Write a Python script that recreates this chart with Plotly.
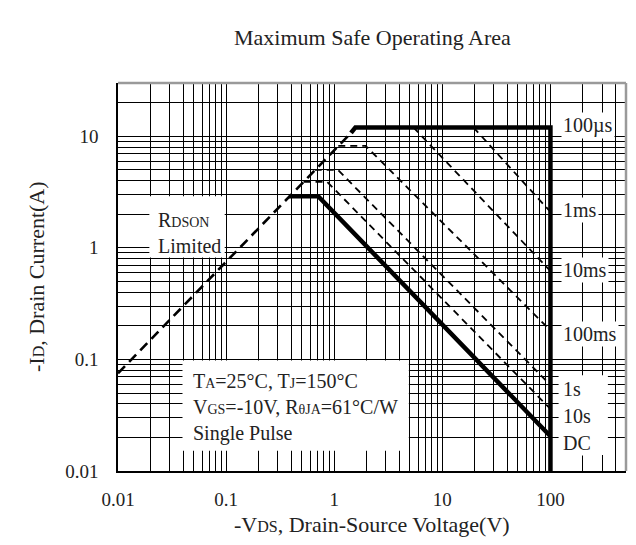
import numpy as np
import plotly.graph_objects as go

FONT = "Liberation Serif"
SMALL = "<span style='font-size:{}px'>{}</span>"

chart_title = "Maximum Safe Operating Area"
x_title = "-V" + SMALL.format(16, "DS") + ", Drain-Source Voltage(V)"
y_title = "-I" + SMALL.format(16, "D") + ", Drain Current(A)"

x_tickvals = [0.01, 0.1, 1, 10, 100]
x_ticktext = ["0.01", "0.1", "1", "10", "100"]
y_tickvals = [0.01, 0.1, 1, 10]
y_ticktext = ["0.01", "0.1", "1", "10"]

# SOA boundaries: -VDS (V) and -ID (A)
rdson_v = [0.01, 1.43]
rdson_i = [0.075, 10.7]

us100_v = [1.43, 1.57, 100, 100]
us100_i = [10.7, 12.0, 12.0, 0.01]

ms1_v = [19.4, 100]
ms1_i = [12.0, 2.1]

ms10_v = [5.4, 100]
ms10_i = [12.0, 0.62]

ms100_v = [1.09, 1.95, 100]
ms100_i = [8.2, 8.2, 0.182]

s1_v = [0.66, 1.08, 100]
s1_i = [5.0, 5.0, 0.059]

s10_v = [0.52, 0.86, 100]
s10_i = [3.9, 3.9, 0.036]

dc_v = [0.38, 0.71, 100]
dc_i = [2.9, 2.9, 0.0205]

# curve labels at the right
curve_labels = ["100µs", "1ms", "10ms", "100ms", "1s", "10s", "DC"]
curve_label_i = [12.5, 2.2, 0.63, 0.17, 0.054, 0.031, 0.018]
curve_label_v = 126

rdson_text = "R" + SMALL.format(14, "DSON") + "<br>Limited"
cond_text = ("T" + SMALL.format(14, "A") + "=25°C, T" + SMALL.format(14, "J") + "=150°C<br>"
             "V" + SMALL.format(14, "GS") + "=-10V, R" + SMALL.format(14, "θJA") + "=61°C/W<br>"
             "Single Pulse")

fig = go.Figure()

def add_line(v, i, width, dash):
    fig.add_trace(go.Scatter(x=v, y=i, mode="lines",
                             line=dict(color="black", width=width, dash=dash),
                             showlegend=False, hoverinfo="skip"))

add_line(rdson_v, rdson_i, 2.6, "10px,6px")
for v, i in [(ms1_v, ms1_i), (ms10_v, ms10_i), (ms100_v, ms100_i),
             (s1_v, s1_i), (s10_v, s10_i)]:
    add_line(v, i, 1.8, "7px,5px")
add_line(us100_v, us100_i, 4.5, "solid")
add_line(dc_v, dc_i, 4.5, "solid")

# white text boxes covering the grid
shapes = [
    dict(type="rect", xref="x", yref="y", x0=0.0195, x1=0.097, y0=0.82, y1=2.9,
         fillcolor="white", line=dict(width=0), layer="between"),
    dict(type="rect", xref="x", yref="y", x0=0.0395, x1=4.9, y0=0.0152, y1=0.098,
         fillcolor="white", line=dict(width=0), layer="between"),
    dict(type="rect", xref="x", yref="y", x0=119, x1=340, y0=0.0139, y1=0.072,
         fillcolor="white", line=dict(width=0), layer="between"),
    dict(type="line", xref="x domain", yref="y domain", x0=1, x1=1, y0=0, y1=1,
         line=dict(color="#9a9a9a", width=2.5), layer="above"),
    dict(type="line", xref="x domain", yref="y domain", x0=0, x1=1, y0=1, y1=1,
         line=dict(color="#9a9a9a", width=2.5), layer="above"),
]

annotations = []
for lab, yi in zip(curve_labels, curve_label_i):
    annotations.append(dict(x=np.log10(curve_label_v), y=np.log10(yi), xref="x", yref="y",
                            text=lab, showarrow=False, xanchor="left", yanchor="middle",
                            font=dict(family=FONT, size=20, color="#222"),
                            bgcolor="white", borderpad=1))
annotations.append(dict(x=np.log10(0.0225), y=np.log10(1.36), xref="x", yref="y",
                        text=rdson_text, showarrow=False, xanchor="left", yanchor="middle",
                        align="left", font=dict(family=FONT, size=20, color="#222")))
annotations.append(dict(x=np.log10(0.047), y=np.log10(0.0368), xref="x", yref="y",
                        text=cond_text, showarrow=False, xanchor="left", yanchor="middle",
                        align="left", font=dict(family=FONT, size=20, color="#222")))
annotations.append(dict(x=0.5, y=1.116, xref="paper", yref="paper", text=chart_title,
                        showarrow=False, xanchor="center", yanchor="middle",
                        font=dict(family=FONT, size=22, color="#222")))
annotations.append(dict(x=0.5, y=-0.1366, xref="paper", yref="paper", text=x_title,
                        showarrow=False, xanchor="center", yanchor="middle",
                        font=dict(family=FONT, size=22, color="#222")))
annotations.append(dict(x=-0.1614, y=0.5, xref="paper", yref="paper", text=y_title,
                        showarrow=False, xanchor="center", yanchor="middle", textangle=-90,
                        font=dict(family=FONT, size=22, color="#222")))

fig.update_layout(
    width=636, height=545,
    margin=dict(l=110, r=18, t=75, b=82),
    paper_bgcolor="white", plot_bgcolor="white",
    font=dict(family=FONT, size=19, color="#222"),
    shapes=shapes, annotations=annotations,
    xaxis=dict(type="log", range=[-2, np.log10(500)], tickvals=x_tickvals, ticktext=x_ticktext,
               showgrid=True, gridcolor="black", gridwidth=1, ticks="", ticklabelstandoff=10,
               showline=True, linecolor="black", linewidth=1.5, zeroline=False,
               minor=dict(dtick="D1", showgrid=True, gridcolor="black", gridwidth=1, ticks="")),
    yaxis=dict(type="log", range=[-2, np.log10(30)], tickvals=y_tickvals, ticktext=y_ticktext,
               showgrid=True, gridcolor="black", gridwidth=1, ticks="", ticklabelstandoff=14,
               showline=True, linecolor="black", linewidth=1.5, zeroline=False,
               minor=dict(dtick="D1", showgrid=True, gridcolor="black", gridwidth=1, ticks="")),
)

fig.write_html("out.html")
